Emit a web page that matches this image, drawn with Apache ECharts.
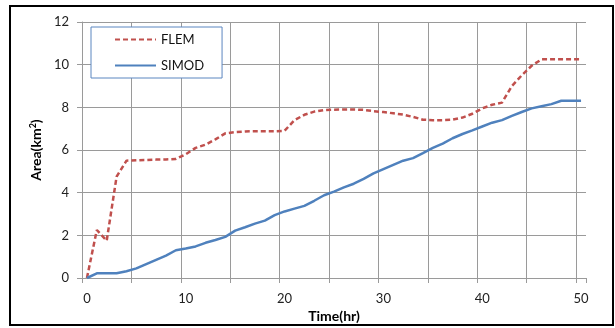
<!DOCTYPE html>
<html>
<head>
<meta charset="utf-8">
<script src="https://cdn.jsdelivr.net/npm/echarts@6/dist/echarts.min.js"></script>
<style>html,body{margin:0;padding:0;background:#fff;}#c{width:615px;height:328px;}</style>
</head>
<body>
<div id="c"></div>
<script>
const times = [];
for (let t = 0; t <= 50; t++) times.push(String(t));
const flem = [0, 2.25, 1.75, 4.75, 5.5, 5.52, 5.53, 5.55, 5.56, 5.58,
  5.8, 6.1, 6.25, 6.5, 6.78, 6.84, 6.87, 6.88, 6.88, 6.88,
  6.9, 7.4, 7.65, 7.8, 7.87, 7.89, 7.9, 7.9, 7.88, 7.82,
  7.78, 7.72, 7.66, 7.55, 7.42, 7.4, 7.4, 7.42, 7.52, 7.7,
  7.95, 8.12, 8.22, 9.0, 9.5, 9.95, 10.25, 10.25, 10.25, 10.25, 10.25];
const simod = [0, 0.22, 0.22, 0.22, 0.32, 0.45, 0.65, 0.85, 1.05, 1.3,
  1.38, 1.48, 1.65, 1.78, 1.93, 2.22, 2.38, 2.55, 2.69, 2.95,
  3.12, 3.25, 3.38, 3.62, 3.88, 4.05, 4.25, 4.42, 4.65, 4.9,
  5.1, 5.3, 5.5, 5.62, 5.85, 6.1, 6.3, 6.55, 6.75, 6.92,
  7.1, 7.28, 7.4, 7.6, 7.78, 7.95, 8.05, 8.15, 8.31, 8.31, 8.31];
const seriesNames = ['FLEM', 'SIMOD'];
const xTitle = 'Time(hr)';
const yTitle = 'Area(km{s|2})';

const grid = '#9a9a9a';
const vColors = [];
for (let i = 0; i < 11; i++) vColors.push(grid);
vColors.push('rgba(0,0,0,0)');

const chart = echarts.init(document.getElementById('c'), null, {renderer: 'canvas'});
chart.setOption({
  animation: false,
  backgroundColor: '#fff',
  textStyle: {fontFamily: 'Lato'},
  graphic: [{
    type: 'rect', shape: {x: 10, y: 6, width: 603, height: 319},
    style: {fill: 'none', stroke: '#000', lineWidth: 2}, z: -1
  }],
  grid: {left: 82, top: 22, width: 504, height: 256, containLabel: false, outerBoundsMode: 'none'},
  legend: {
    left: 91, top: 27, orient: 'vertical',
    backgroundColor: '#fff', borderColor: '#5b86c0', borderWidth: 1,
    padding: [6, 18, 6, 23], itemWidth: 41, itemHeight: 14, itemGap: 13,
    itemStyle: {opacity: 0},
    textStyle: {fontFamily: 'Lato', fontSize: 13, color: '#111'},
    data: seriesNames
  },
  xAxis: {
    type: 'category', data: times, boundaryGap: true,
    name: xTitle, nameLocation: 'middle', nameGap: 30,
    nameTextStyle: {fontFamily: 'Lato', fontWeight: 'bold', fontSize: 14, color: '#000'},
    axisLine: {show: true, lineStyle: {color: grid, width: 1}},
    axisTick: {show: true, interval: 4, length: 5, lineStyle: {color: grid}},
    axisLabel: {interval: 9, margin: 14, fontFamily: 'Lato', fontSize: 13, color: '#222'},
    splitLine: {show: true, interval: 4, lineStyle: {color: vColors, width: 1}}
  },
  yAxis: {
    type: 'value', min: 0, max: 12, interval: 2,
    name: yTitle, nameLocation: 'middle', nameGap: 32,
    nameTextStyle: {fontFamily: 'Lato', fontWeight: 'bold', fontSize: 14, color: '#000',
      rich: {s: {fontFamily: 'Lato', fontWeight: 'bold', fontSize: 9, color: '#000', verticalAlign: 'top', padding: [0, 0, 6, 0]}}},
    axisLine: {show: true, lineStyle: {color: grid, width: 1}},
    axisTick: {show: true, length: 5, lineStyle: {color: grid}},
    axisLabel: {margin: 13, fontFamily: 'Lato', fontSize: 13, color: '#222'},
    splitLine: {show: true, lineStyle: {color: grid, width: 1}}
  },
  series: [
    {name: seriesNames[0], type: 'line', data: flem, symbol: 'none',
     lineStyle: {color: '#c0504d', width: 2.5, type: [5, 3]}, itemStyle: {color: '#c0504d'}},
    {name: seriesNames[1], type: 'line', data: simod, symbol: 'none',
     lineStyle: {color: '#4f81bd', width: 2.5}, itemStyle: {color: '#4f81bd'}}
  ]
});
</script>
</body>
</html>
